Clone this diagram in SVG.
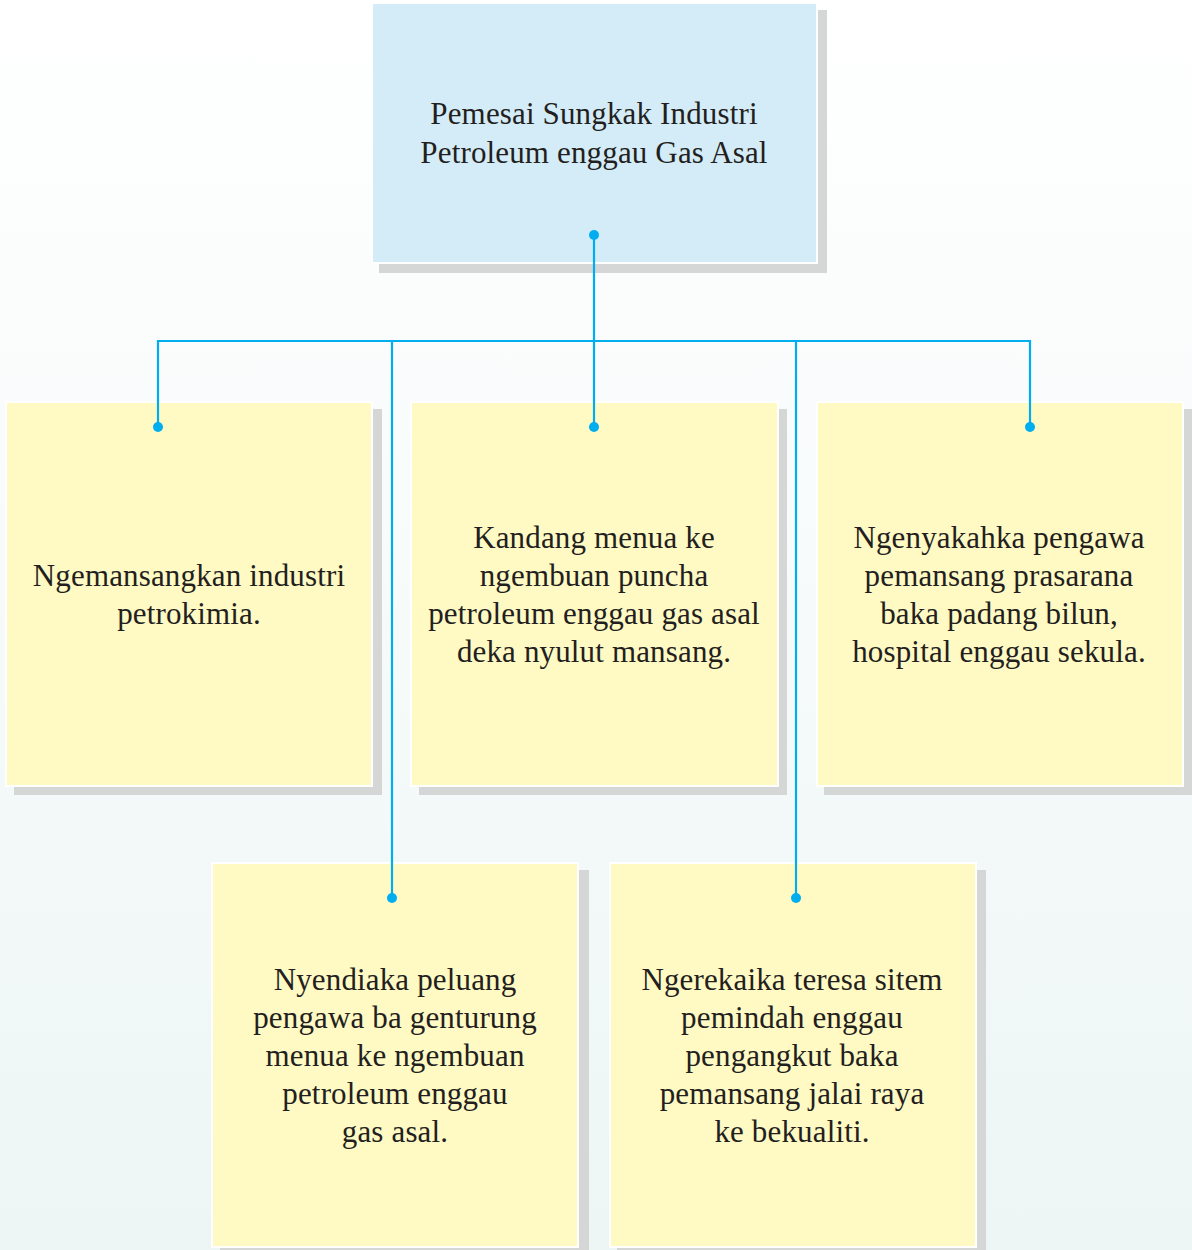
<svg xmlns="http://www.w3.org/2000/svg" width="1192" height="1250" viewBox="0 0 1192 1250">
<defs>
<linearGradient id="bg" x1="0" y1="0" x2="0" y2="1">
<stop offset="0" stop-color="#ffffff"/>
<stop offset="1" stop-color="#edf6f5"/>
</linearGradient>
<style>
.sh{fill:#d5d7d7}
.bd{fill:#ffffff}
.yl{fill:#fff9c4}
.bl{fill:#d4ecf8}
.t{font-family:"Liberation Serif","Times New Roman",serif;font-size:31px;letter-spacing:0.15px;fill:#231f20;text-anchor:middle}
.ln{stroke:#00aeef;stroke-width:2.2;fill:none}
.dt{fill:#00aeef}
</style>
</defs>
<rect width="1192" height="1250" fill="url(#bg)"/>

<g id="n0">
<rect class="sh" x="379" y="10" width="448" height="263"/>
<rect class="bd" x="371" y="2" width="447" height="262"/>
<rect class="bl" x="373" y="4" width="443" height="258"/>
<text class="t" x="594" y="124">Pemesai Sungkak Industri</text>
<text class="t" x="594" y="163">Petroleum enggau Gas Asal</text>
</g>

<g id="n1">
<rect class="sh" x="14" y="409" width="368" height="386"/>
<rect class="bd" x="5" y="401" width="368" height="386"/>
<rect class="yl" x="7" y="403" width="364" height="382"/>
<text class="t" x="189" y="586">Ngemansangkan industri</text>
<text class="t" x="189" y="624">petrokimia.</text>
</g>

<g id="n2">
<rect class="sh" x="419" y="409" width="368" height="386"/>
<rect class="bd" x="410" y="401" width="369" height="386"/>
<rect class="yl" x="412" y="403" width="365" height="382"/>
<text class="t" x="594" y="548">Kandang menua ke</text>
<text class="t" x="594" y="586">ngembuan puncha</text>
<text class="t" x="594" y="624">petroleum enggau gas asal</text>
<text class="t" x="594" y="662">deka nyulut mansang.</text>
</g>

<g id="n3">
<rect class="sh" x="824" y="409" width="368" height="386"/>
<rect class="bd" x="816" y="401" width="368" height="386"/>
<rect class="yl" x="818" y="403" width="364" height="382"/>
<text class="t" x="999" y="548">Ngenyakahka pengawa</text>
<text class="t" x="999" y="586">pemansang prasarana</text>
<text class="t" x="999" y="624">baka padang bilun,</text>
<text class="t" x="999" y="662">hospital enggau sekula.</text>
</g>

<g id="n4">
<rect class="sh" x="220" y="870" width="369" height="385"/>
<rect class="bd" x="211" y="862" width="368" height="386"/>
<rect class="yl" x="213" y="864" width="364" height="382"/>
<text class="t" x="395" y="990">Nyendiaka peluang</text>
<text class="t" x="395" y="1028">pengawa ba genturung</text>
<text class="t" x="395" y="1066">menua ke ngembuan</text>
<text class="t" x="395" y="1104">petroleum enggau</text>
<text class="t" x="395" y="1142">gas asal.</text>
</g>

<g id="n5">
<rect class="sh" x="617" y="870" width="369" height="385"/>
<rect class="bd" x="609" y="862" width="368" height="386"/>
<rect class="yl" x="611" y="864" width="364" height="382"/>
<text class="t" x="792" y="990">Ngerekaika teresa sitem</text>
<text class="t" x="792" y="1028">pemindah enggau</text>
<text class="t" x="792" y="1066">pengangkut baka</text>
<text class="t" x="792" y="1104">pemansang jalai raya</text>
<text class="t" x="792" y="1142">ke bekualiti.</text>
</g>

<g id="connectors">
<path class="ln" d="M594 235V341M158 427V341H1030V427M594 341V427M392 341V898M796 341V898"/>
<circle class="dt" cx="594" cy="235" r="5"/>
<circle class="dt" cx="158" cy="427" r="5"/>
<circle class="dt" cx="594" cy="427" r="5"/>
<circle class="dt" cx="1030" cy="427" r="5"/>
<circle class="dt" cx="392" cy="898" r="5"/>
<circle class="dt" cx="796" cy="898" r="5"/>
</g>
</svg>
